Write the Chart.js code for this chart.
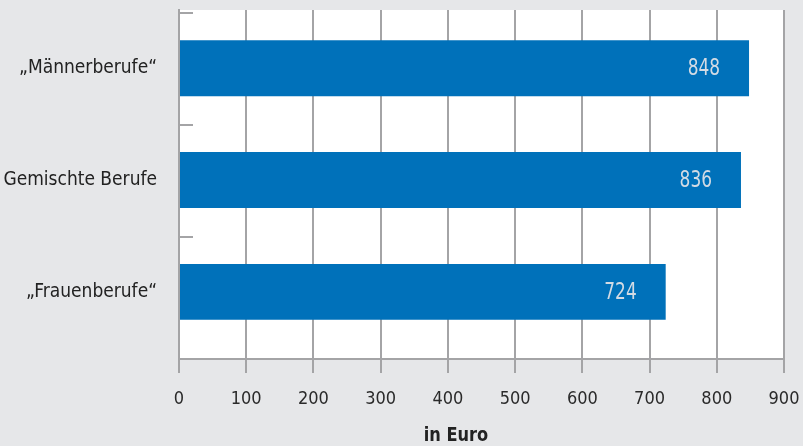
<!DOCTYPE html>
<html>
<head>
<meta charset="utf-8">
<script src="https://cdn.jsdelivr.net/npm/chart.js@4/dist/chart.umd.min.js"></script>
<style>
  html, body { margin: 0; padding: 0; background: #e6e7e9; }
  #wrap { width: 803px; height: 446px; }
</style>
</head>
<body>
<div id="wrap"><canvas id="barChart" width="803" height="446"></canvas></div>
<script>
// Berufsgruppen en waarden (in Euro)
const categories = ['\u201EMännerberufe\u201C', 'Gemischte Berufe', '\u201EFrauenberufe\u201C'];
const values = [848, 836, 724];
const xTicks = [0, 100, 200, 300, 400, 500, 600, 700, 800, 900];
const axisTitle = 'in Euro';

const fontFam = "'DejaVu Sans Condensed', 'Liberation Sans Narrow', sans-serif";
const gridColor = '#a4a4a6';

// witte achtergrond van het plotvlak
const plotBg = {
    id: 'plotBg',
    beforeDraw(chart) {
        const a = chart.chartArea;
        chart.ctx.save();
        chart.ctx.fillStyle = '#ffffff';
        chart.ctx.fillRect(a.left, a.top, a.right - a.left, a.bottom - a.top);
        chart.ctx.restore();
    }
};

// kleine streepjes binnen de as op de categoriegrenzen
const innerTicks = {
    id: 'innerTicks',
    afterDraw(chart) {
        const ctx = chart.ctx;
        const y = chart.scales.y;
        const left = chart.chartArea.left;
        ctx.save();
        ctx.strokeStyle = gridColor;
        ctx.lineWidth = 2;
        for (let i = 0; i < categories.length; i++) {
            const py = Math.round(y.getPixelForValue(i - 0.5)) + 1;
            ctx.beginPath();
            ctx.moveTo(left, py);
            ctx.lineTo(left + 14, py);
            ctx.stroke();
        }
        ctx.restore();
    }
};

// waarden in de balken + as-titel
const barLabels = {
    id: 'barLabels',
    afterDatasetsDraw(chart) {
        const ctx = chart.ctx;
        const meta = chart.getDatasetMeta(0);
        ctx.save();
        ctx.font = '300 23px ' + fontFam;
        ctx.fillStyle = '#d3dbe4';
        ctx.textAlign = 'right';
        ctx.textBaseline = 'middle';
        meta.data.forEach((bar, i) => {
            ctx.save();
            ctx.translate(bar.x - 29, bar.y + 1);
            ctx.scale(0.82, 1);
            ctx.fillText(String(values[i]), 0, 0);
            ctx.restore();
        });
        ctx.font = 'bold 20px ' + fontFam;
        ctx.fillStyle = '#222';
        ctx.textAlign = 'center';
        ctx.save();
        ctx.translate(456, 436);
        ctx.scale(0.9, 1);
        ctx.fillText(axisTitle, 0, 0);
        ctx.restore();
        ctx.restore();
    }
};

const ctx = document.getElementById('barChart').getContext('2d');
const barChart = new Chart(ctx, {
    type: 'bar',
    data: {
        datasets: [{
            data: values.map((v, i) => ({ x: v, y: i })),
            backgroundColor: '#0071ba',
            barPercentage: 0.5,
            categoryPercentage: 1.0
        }]
    },
    options: {
        indexAxis: 'y',
        responsive: false,
        animation: false,
        layout: { padding: { top: 10, right: 19 } },
        plugins: {
            legend: { display: false },
            tooltip: { enabled: false }
        },
        scales: {
            x: {
                type: 'linear',
                min: 0,
                max: 900,
                afterBuildTicks: axis => { axis.ticks = xTicks.map(v => ({ value: v })); },
                afterFit: axis => {
                    axis.height = 87;
                    axis.paddingLeft = 0;
                    axis.paddingRight = 0;
                },
                grid: {
                    color: gridColor,
                    lineWidth: 2,
                    tickLength: 14
                },
                border: { color: gridColor, width: 2 },
                ticks: {
                    color: '#2a2a2a',
                    padding: 16,
                    font: { family: fontFam, size: 18 }
                }
            },
            y: {
                type: 'linear',
                reverse: true,
                offset: false,
                min: -0.52,
                max: 2.6,
                afterBuildTicks: axis => { axis.ticks = categories.map((c, i) => ({ value: i })); },
                afterFit: axis => {
                    axis.width = 179;
                    axis.paddingTop = 0;
                    axis.paddingBottom = 0;
                },
                grid: { display: false, offset: false },
                border: { display: true, color: gridColor, width: 2 },
                ticks: {
                    color: '#222',
                    padding: 14,
                    font: { family: fontFam, size: 19 },
                    callback: (v) => categories[v]
                }
            }
        }
    },
    plugins: [plotBg, innerTicks, barLabels]
});
</script>
</body>
</html>
